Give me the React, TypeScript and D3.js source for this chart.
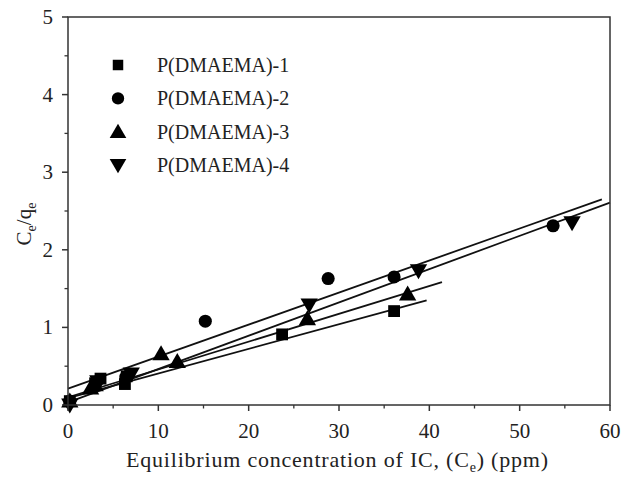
import React from "react";
import * as d3 from "d3";

const seriesNames = ["P(DMAEMA)-1", "P(DMAEMA)-2", "P(DMAEMA)-3", "P(DMAEMA)-4"];
const symbolsKind = ["square", "circle", "triangle", "down"];

const s1x = [0.2, 3.0, 3.6, 6.3, 6.5, 23.7, 36.1];
const s1y = [0.05, 0.28, 0.34, 0.27, 0.37, 0.91, 1.21];
const s2x = [0.2, 3.2, 6.4, 15.2, 28.8, 36.1, 53.7];
const s2y = [0.05, 0.3, 0.36, 1.08, 1.63, 1.65, 2.31];
const s3x = [0.2, 2.5, 3.0, 10.3, 12.1, 26.5, 37.6];
const s3y = [0.05, 0.22, 0.26, 0.66, 0.56, 1.11, 1.43];
const s4x = [0.2, 3.3, 7.0, 26.7, 38.8, 55.8];
const s4y = [0.0, 0.3, 0.4, 1.29, 1.73, 2.35];

// linear fit lines: [x0, x1, intercept, slope]
const fit1 = [0, 39.7, 0.09, 0.0317];
const fit2 = [0, 59.1, 0.21, 0.0413];
const fit3 = [0, 41.4, 0.1, 0.0358];
const fit4 = [0, 60, 0.035, 0.0429];

const xTicks = [0, 10, 20, 30, 40, 50, 60];
const yTicks = [0, 1, 2, 3, 4, 5];

const W = 624, H = 484;
const L = 68, R = 610, T = 17, B = 405;

export default function App() {
  const x = d3.scaleLinear().domain([0, 60]).range([L, R]);
  const y = d3.scaleLinear().domain([0, 5]).range([B, T]);
  const font = "'Liberation Serif', 'Times New Roman', serif";
  const series = [
    { xs: s1x, ys: s1y },
    { xs: s2x, ys: s2y },
    { xs: s3x, ys: s3y },
    { xs: s4x, ys: s4y },
  ];
  const fits = [fit1, fit2, fit3, fit4];
  const symGen = (kind: string, size: number) => {
    if (kind === "square") return d3.symbol(d3.symbolSquare, size)()!;
    if (kind === "circle") return d3.symbol(d3.symbolCircle, size)()!;
    return d3.symbol(d3.symbolTriangle, size)()!;
  };
  const marker = (kind: string, cx: number, cy: number, size: number, key: string) => {
    const rot = kind === "down" ? 180 : 0;
    const dy = kind === "triangle" ? 1.5 : kind === "down" ? -1.5 : 0;
    return (
      <path
        key={key}
        d={symGen(kind, size)}
        transform={`translate(${cx},${cy + dy}) rotate(${rot})`}
        fill="#000"
      />
    );
  };
  const minorX = d3.range(5, 60, 10);
  const minorY = d3.range(0.5, 5, 1);
  const line = d3.line<number[]>().x((d) => x(d[0])).y((d) => y(d[1]));
  return (
    <svg width={W} height={H} style={{ position: "absolute", left: 0, top: 0, background: "#fff" }}>
      <rect width={W} height={H} fill="#fff" />
      {fits.map((f, i) => (
        <path
          key={"f" + i}
          d={line([
            [f[0], f[2] + f[3] * f[0]],
            [f[1], f[2] + f[3] * f[1]],
          ])!}
          stroke="#111"
          strokeWidth={1.8}
          fill="none"
        />
      ))}
      {series.map((s, i) =>
        s.xs.map((xv, j) => marker(symbolsKind[i], x(xv), y(s.ys[j]), symbolsKind[i] === "circle" ? 135 : symbolsKind[i] === "square" ? 140 : 130, `p${i}-${j}`))
      )}
      {/* frame */}
      <rect x={L} y={T} width={R - L} height={B - T} fill="none" stroke="#333" strokeWidth={1.5} />
      {xTicks.map((t) => (
        <g key={"xt" + t}>
          <line x1={x(t)} x2={x(t)} y1={B} y2={B + 6} stroke="#333" strokeWidth={1.5} />
          <text x={x(t)} y={B + 33} fontSize={21} fontFamily={font} textAnchor="middle" fill="#222">
            {t}
          </text>
        </g>
      ))}
      {minorX.map((t) => (
        <line key={"xm" + t} x1={x(t)} x2={x(t)} y1={B} y2={B + 3.5} stroke="#333" strokeWidth={1.3} />
      ))}
      {yTicks.map((t) => (
        <g key={"yt" + t}>
          <line x1={L - 6} x2={L} y1={y(t)} y2={y(t)} stroke="#333" strokeWidth={1.5} />
          <text x={L - 15} y={y(t) + 7} fontSize={21} fontFamily={font} textAnchor="end" fill="#222">
            {t}
          </text>
        </g>
      ))}
      {minorY.map((t) => (
        <line key={"ym" + t} x1={L - 3.5} x2={L} y1={y(t)} y2={y(t)} stroke="#333" strokeWidth={1.3} />
      ))}
      {/* legend */}
      {seriesNames.map((n, i) => (
        <g key={"lg" + i}>
          {marker(symbolsKind[i], 118, 65 + i * 33.4, symbolsKind[i] === "circle" ? 120 : symbolsKind[i] === "square" ? 110 : 120, "lm" + i)}
          <text x={157} y={65 + i * 33.4 + 7} fontSize={20} fontFamily={font} fill="#222">
            {n}
          </text>
        </g>
      ))}
      {/* axis titles */}
      <text x={126} y={467} fontSize={22} fontFamily={font} fill="#222" textLength={422} lengthAdjust="spacing">
        Equilibrium concentration of IC, (C
        <tspan fontSize={14} dy={5}>e</tspan>
        <tspan dy={-5}>) (ppm)</tspan>
      </text>
      <text transform={`translate(31,${224}) rotate(-90)`} fontSize={21} fontFamily={font} textAnchor="middle" fill="#222">
        C<tspan fontSize={14} dy={5}>e</tspan>
        <tspan dy={-5}>/q</tspan>
        <tspan fontSize={14} dy={5}>e</tspan>
      </text>
    </svg>
  );
}
